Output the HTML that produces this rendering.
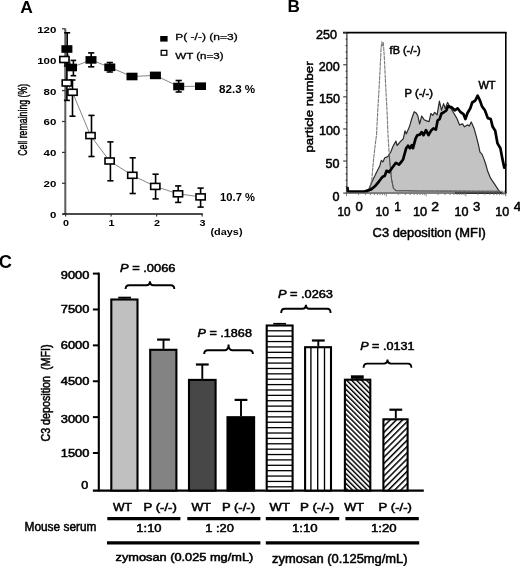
<!DOCTYPE html>
<html><head><meta charset="utf-8"><style>
html,body{margin:0;padding:0;background:#fff;}
svg{display:block;font-family:"Liberation Sans", sans-serif;filter:blur(0.35px);}
</style></head><body>
<svg width="520" height="566" viewBox="0 0 520 566" font-family='"Liberation Sans", sans-serif'>
<rect width="520" height="566" fill="#fff"/>
<text x="20.3" y="13" font-size="16.5" font-weight="bold" textLength="12.6" lengthAdjust="spacingAndGlyphs" >A</text>
<text x="27.4" y="155.8" font-size="12.4" stroke="#000" stroke-width="0.45" textLength="72" lengthAdjust="spacingAndGlyphs" transform="rotate(-90 27.4 155.8)" >Cell remaining (%)</text>
<line x1="65.3" y1="28.5" x2="65.3" y2="214.6" stroke="#5c5c5c" stroke-width="2.0" />
<line x1="62.5" y1="214.0" x2="202.8" y2="214.0" stroke="#111" stroke-width="1.5" />
<line x1="62" y1="214.2" x2="65.3" y2="214.2" stroke="#333" stroke-width="1.2" />
<line x1="62" y1="183.29999999999998" x2="65.3" y2="183.29999999999998" stroke="#333" stroke-width="1.2" />
<line x1="62" y1="152.39999999999998" x2="65.3" y2="152.39999999999998" stroke="#333" stroke-width="1.2" />
<line x1="62" y1="121.5" x2="65.3" y2="121.5" stroke="#333" stroke-width="1.2" />
<line x1="62" y1="90.6" x2="65.3" y2="90.6" stroke="#333" stroke-width="1.2" />
<line x1="62" y1="59.69999999999999" x2="65.3" y2="59.69999999999999" stroke="#333" stroke-width="1.2" />
<line x1="62" y1="28.80000000000001" x2="65.3" y2="28.80000000000001" stroke="#333" stroke-width="1.2" />
<line x1="65.6" y1="214" x2="65.6" y2="216.5" stroke="#333" stroke-width="1.2" />
<line x1="111.1" y1="214" x2="111.1" y2="216.5" stroke="#333" stroke-width="1.2" />
<line x1="156.6" y1="214" x2="156.6" y2="216.5" stroke="#333" stroke-width="1.2" />
<line x1="202.1" y1="214" x2="202.1" y2="216.5" stroke="#333" stroke-width="1.2" />
<text x="56.4" y="32.70000000000001" font-size="8.8" font-weight="bold" text-anchor="end" textLength="19.200000000000003" lengthAdjust="spacingAndGlyphs" >120</text>
<text x="56.4" y="63.59999999999999" font-size="8.8" font-weight="bold" text-anchor="end" textLength="19.200000000000003" lengthAdjust="spacingAndGlyphs" >100</text>
<text x="56.4" y="94.49999999999999" font-size="8.8" font-weight="bold" text-anchor="end" textLength="12.8" lengthAdjust="spacingAndGlyphs" >80</text>
<text x="56.4" y="125.39999999999999" font-size="8.8" font-weight="bold" text-anchor="end" textLength="12.8" lengthAdjust="spacingAndGlyphs" >60</text>
<text x="56.4" y="156.29999999999998" font-size="8.8" font-weight="bold" text-anchor="end" textLength="12.8" lengthAdjust="spacingAndGlyphs" >40</text>
<text x="56.4" y="187.2" font-size="8.8" font-weight="bold" text-anchor="end" textLength="12.8" lengthAdjust="spacingAndGlyphs" >20</text>
<text x="56.4" y="218.1" font-size="8.8" font-weight="bold" text-anchor="end" textLength="6.4" lengthAdjust="spacingAndGlyphs" >0</text>
<text x="66.1" y="226.4" font-size="8.6" font-weight="bold" text-anchor="middle" textLength="6.0" lengthAdjust="spacingAndGlyphs" >0</text>
<text x="111.6" y="226.4" font-size="8.6" font-weight="bold" text-anchor="middle" textLength="6.0" lengthAdjust="spacingAndGlyphs" >1</text>
<text x="157.1" y="226.4" font-size="8.6" font-weight="bold" text-anchor="middle" textLength="6.0" lengthAdjust="spacingAndGlyphs" >2</text>
<text x="202.6" y="226.4" font-size="8.6" font-weight="bold" text-anchor="middle" textLength="6.0" lengthAdjust="spacingAndGlyphs" >3</text>
<text x="210.5" y="234.7" font-size="9.5" font-weight="bold" textLength="32" lengthAdjust="spacingAndGlyphs" >(days)</text>
<text x="220.1" y="201.2" font-size="10.0" font-weight="bold" textLength="34.8" lengthAdjust="spacingAndGlyphs" >10.7 %</text>
<text x="219.0" y="93.1" font-size="10.0" font-weight="bold" textLength="36.2" lengthAdjust="spacingAndGlyphs" >82.3 %</text>
<rect x="160.2" y="36.0" width="7.4" height="5.6" fill="#000" stroke="none" stroke-width="0" />
<text x="175.2" y="40.0" font-size="9.8" stroke="#000" stroke-width="0.3" textLength="62.5" lengthAdjust="spacingAndGlyphs" >P( -/-) (n=3)</text>
<rect x="161.2" y="50.4" width="5.6" height="4.8" fill="#fff" stroke="#000" stroke-width="1.3" />
<text x="175.2" y="58.6" font-size="9.6" stroke="#000" stroke-width="0.3" textLength="48.5" lengthAdjust="spacingAndGlyphs" >WT (n=3)</text>
<polyline points="66.9,49.0 71.5,67.5 91.0,59.9 109.8,67.3 132.0,76.5 155.4,75.4 178.7,86.5 200.5,86.2" fill="none" stroke="#777" stroke-width="0.9" stroke-linejoin="round" />
<polyline points="64.4,59.5 66.8,83.0 72.5,92.3 90.5,135.6 109.6,161.0 132.3,175.3 155.3,186.4 178.0,193.8 200.6,196.9" fill="none" stroke="#777" stroke-width="0.9" stroke-linejoin="round" />
<line x1="66.9" y1="66" x2="66.9" y2="100.4" stroke="#000" stroke-width="1.6" />
<line x1="63.900000000000006" y1="66" x2="69.9" y2="66" stroke="#000" stroke-width="1.6" />
<line x1="63.900000000000006" y1="100.4" x2="69.9" y2="100.4" stroke="#000" stroke-width="1.6" />
<line x1="72.5" y1="80" x2="72.5" y2="116.2" stroke="#000" stroke-width="1.6" />
<line x1="69.5" y1="80" x2="75.5" y2="80" stroke="#000" stroke-width="1.6" />
<line x1="69.5" y1="116.2" x2="75.5" y2="116.2" stroke="#000" stroke-width="1.6" />
<line x1="91.5" y1="115.4" x2="91.5" y2="156.5" stroke="#000" stroke-width="1.6" />
<line x1="88.4" y1="115.4" x2="94.6" y2="115.4" stroke="#000" stroke-width="1.6" />
<line x1="88.4" y1="156.5" x2="94.6" y2="156.5" stroke="#000" stroke-width="1.6" />
<line x1="110.4" y1="141.9" x2="110.4" y2="180.8" stroke="#000" stroke-width="1.6" />
<line x1="107.30000000000001" y1="141.9" x2="113.5" y2="141.9" stroke="#000" stroke-width="1.6" />
<line x1="107.30000000000001" y1="180.8" x2="113.5" y2="180.8" stroke="#000" stroke-width="1.6" />
<line x1="132.7" y1="157.8" x2="132.7" y2="193.5" stroke="#000" stroke-width="1.6" />
<line x1="129.6" y1="157.8" x2="135.79999999999998" y2="157.8" stroke="#000" stroke-width="1.6" />
<line x1="129.6" y1="193.5" x2="135.79999999999998" y2="193.5" stroke="#000" stroke-width="1.6" />
<line x1="155.6" y1="174.2" x2="155.6" y2="198.9" stroke="#000" stroke-width="1.6" />
<line x1="152.5" y1="174.2" x2="158.7" y2="174.2" stroke="#000" stroke-width="1.6" />
<line x1="152.5" y1="198.9" x2="158.7" y2="198.9" stroke="#000" stroke-width="1.6" />
<line x1="178.2" y1="185.9" x2="178.2" y2="202.4" stroke="#000" stroke-width="1.6" />
<line x1="175.1" y1="185.9" x2="181.29999999999998" y2="185.9" stroke="#000" stroke-width="1.6" />
<line x1="175.1" y1="202.4" x2="181.29999999999998" y2="202.4" stroke="#000" stroke-width="1.6" />
<line x1="200.6" y1="188.1" x2="200.6" y2="207.1" stroke="#000" stroke-width="1.6" />
<line x1="197.5" y1="188.1" x2="203.7" y2="188.1" stroke="#000" stroke-width="1.6" />
<line x1="197.5" y1="207.1" x2="203.7" y2="207.1" stroke="#000" stroke-width="1.6" />
<line x1="67.2" y1="32.8" x2="67.2" y2="64" stroke="#000" stroke-width="1.6" />
<line x1="64.2" y1="32.8" x2="70.2" y2="32.8" stroke="#000" stroke-width="1.6" />
<line x1="64.2" y1="64" x2="70.2" y2="64" stroke="#000" stroke-width="1.6" />
<line x1="73.4" y1="60.4" x2="73.4" y2="75.7" stroke="#000" stroke-width="1.6" />
<line x1="70.65" y1="60.4" x2="76.15" y2="60.4" stroke="#000" stroke-width="1.6" />
<line x1="70.65" y1="75.7" x2="76.15" y2="75.7" stroke="#000" stroke-width="1.6" />
<line x1="91.2" y1="52.9" x2="91.2" y2="66.8" stroke="#000" stroke-width="1.6" />
<line x1="88.10000000000001" y1="52.9" x2="94.3" y2="52.9" stroke="#000" stroke-width="1.6" />
<line x1="88.10000000000001" y1="66.8" x2="94.3" y2="66.8" stroke="#000" stroke-width="1.6" />
<line x1="109.8" y1="62.5" x2="109.8" y2="72.0" stroke="#000" stroke-width="1.6" />
<line x1="106.7" y1="62.5" x2="112.89999999999999" y2="62.5" stroke="#000" stroke-width="1.6" />
<line x1="106.7" y1="72.0" x2="112.89999999999999" y2="72.0" stroke="#000" stroke-width="1.6" />
<line x1="178.7" y1="80.5" x2="178.7" y2="92.0" stroke="#000" stroke-width="1.6" />
<line x1="175.6" y1="80.5" x2="181.79999999999998" y2="80.5" stroke="#000" stroke-width="1.6" />
<line x1="175.6" y1="92.0" x2="181.79999999999998" y2="92.0" stroke="#000" stroke-width="1.6" />
<rect x="59.800000000000004" y="56.5" width="9.2" height="6.0" fill="#fff" stroke="#000" stroke-width="1.6" />
<rect x="62.199999999999996" y="80.0" width="9.2" height="6.0" fill="#fff" stroke="#000" stroke-width="1.6" />
<rect x="67.9" y="89.3" width="9.2" height="6.0" fill="#fff" stroke="#000" stroke-width="1.6" />
<rect x="85.9" y="132.6" width="9.2" height="6.0" fill="#fff" stroke="#000" stroke-width="1.6" />
<rect x="105.0" y="158.0" width="9.2" height="6.0" fill="#fff" stroke="#000" stroke-width="1.6" />
<rect x="127.70000000000002" y="172.3" width="9.2" height="6.0" fill="#fff" stroke="#000" stroke-width="1.6" />
<rect x="150.70000000000002" y="183.4" width="9.2" height="6.0" fill="#fff" stroke="#000" stroke-width="1.6" />
<rect x="173.4" y="190.8" width="9.2" height="6.0" fill="#fff" stroke="#000" stroke-width="1.6" />
<rect x="196.0" y="193.9" width="9.2" height="6.0" fill="#fff" stroke="#000" stroke-width="1.6" />
<rect x="61.400000000000006" y="45.2" width="11" height="7.6" fill="#000" stroke="none" stroke-width="0" />
<rect x="66.0" y="63.7" width="11" height="7.6" fill="#000" stroke="none" stroke-width="0" />
<rect x="85.5" y="56.1" width="11" height="7.6" fill="#000" stroke="none" stroke-width="0" />
<rect x="104.3" y="63.5" width="11" height="7.6" fill="#000" stroke="none" stroke-width="0" />
<rect x="126.5" y="72.7" width="11" height="7.6" fill="#000" stroke="none" stroke-width="0" />
<rect x="149.9" y="71.60000000000001" width="11" height="7.6" fill="#000" stroke="none" stroke-width="0" />
<rect x="173.2" y="82.7" width="11" height="7.6" fill="#000" stroke="none" stroke-width="0" />
<rect x="195.0" y="82.4" width="11" height="7.6" fill="#000" stroke="none" stroke-width="0" />
<text x="287.4" y="12.2" font-size="16.8" font-weight="bold" textLength="12.4" lengthAdjust="spacingAndGlyphs" >B</text>
<text x="313.0" y="152.6" font-size="11.8" stroke="#000" stroke-width="0.5" textLength="91.2" lengthAdjust="spacingAndGlyphs" transform="rotate(-90 313.0 152.6)" >particle number</text>
<text x="337.0" y="39.1" font-size="12.2" stroke="#000" stroke-width="0.5" text-anchor="end" textLength="21.0" lengthAdjust="spacingAndGlyphs" >250</text>
<text x="339.7" y="70.9" font-size="12.2" stroke="#000" stroke-width="0.5" text-anchor="end" textLength="21.0" lengthAdjust="spacingAndGlyphs" >200</text>
<text x="340.0" y="102.7" font-size="12.2" stroke="#000" stroke-width="0.5" text-anchor="end" textLength="21.0" lengthAdjust="spacingAndGlyphs" >150</text>
<text x="339.9" y="134.9" font-size="12.2" stroke="#000" stroke-width="0.5" text-anchor="end" textLength="21.0" lengthAdjust="spacingAndGlyphs" >100</text>
<text x="339.4" y="167.5" font-size="12.2" stroke="#000" stroke-width="0.5" text-anchor="end" textLength="14.0" lengthAdjust="spacingAndGlyphs" >50</text>
<text x="339.4" y="200.9" font-size="12.2" stroke="#000" stroke-width="0.5" text-anchor="end" textLength="7.0" lengthAdjust="spacingAndGlyphs" >0</text>
<text x="337.59999999999997" y="216.0" font-size="12.4" stroke="#000" stroke-width="0.5" textLength="13.00000000000001" lengthAdjust="spacingAndGlyphs" >10</text>
<text x="355.59999999999997" y="210.9" font-size="12.0" stroke="#000" stroke-width="0.5" textLength="7.300000000000023" lengthAdjust="spacingAndGlyphs" >0</text>
<text x="375.59999999999997" y="216.0" font-size="12.4" stroke="#000" stroke-width="0.5" textLength="13.50000000000001" lengthAdjust="spacingAndGlyphs" >10</text>
<text x="394.3" y="210.9" font-size="12.0" stroke="#000" stroke-width="0.5" >1</text>
<text x="412.9" y="216.0" font-size="12.4" stroke="#000" stroke-width="0.5" textLength="14.2" lengthAdjust="spacingAndGlyphs" >10</text>
<text x="431.29999999999995" y="210.9" font-size="12.0" stroke="#000" stroke-width="0.5" textLength="7.800000000000023" lengthAdjust="spacingAndGlyphs" >2</text>
<text x="454.4" y="216.0" font-size="12.4" stroke="#000" stroke-width="0.5" textLength="14.00000000000001" lengthAdjust="spacingAndGlyphs" >10</text>
<text x="472.9" y="210.9" font-size="12.0" stroke="#000" stroke-width="0.5" textLength="7.300000000000023" lengthAdjust="spacingAndGlyphs" >3</text>
<text x="495.2" y="216.0" font-size="12.4" stroke="#000" stroke-width="0.5" textLength="13.899999999999988" lengthAdjust="spacingAndGlyphs" >10</text>
<text x="513.6999999999999" y="210.9" font-size="12.0" stroke="#000" stroke-width="0.5" textLength="7.400000000000046" lengthAdjust="spacingAndGlyphs" >4</text>
<text x="372.6" y="236.5" font-size="12.6" stroke="#000" stroke-width="0.5" textLength="113.2" lengthAdjust="spacingAndGlyphs" >C3 deposition (MFI)</text>
<clipPath id="pclip"><path d="M346.5,193.1 L366.5,193.1 L369.3,188.2 L372.4,180.7 L374.9,175.8 L377.3,170.8 L379.8,165.9 L381.3,160.3 L382.9,161.9 L384.8,157.8 L387.8,156.6 L390.9,151.7 L392.8,146.7 L395.9,141.1 L397.1,145.5 L400.8,141.1 L403.3,138.7 L405.0,130.8 L406.2,133.9 L409.3,127.1 L411.8,118.5 L414.2,111.7 L416.1,112.9 L417.9,116.0 L419.6,124.0 L421.7,116.0 L424.1,119.7 L426.6,120.9 L429.1,121.6 L430.9,113.5 L432.8,115.4 L434.7,112.3 L437.1,114.8 L439.4,101.1 L441.5,110.4 L443.6,103.6 L445.2,108.6 L447.6,102.4 L449.5,106.1 L451.8,109.7 L453.8,113.2 L456.7,118.1 L459.6,124.9 L462.5,123.9 L464.5,126.8 L467.4,124.9 L469.3,125.9 L471.3,122.0 L474.2,128.8 L476.1,135.6 L478.1,143.4 L480.0,152.1 L482.0,154.1 L483.9,158.9 L485.9,164.8 L487.8,171.6 L490.7,178.4 L494.6,184.2 L498.5,190.1 L500.4,192.0 L502.0,193.1 Z"/></clipPath>
<path d="M346.5,193.1 L366.5,193.1 L369.3,188.2 L372.4,180.7 L374.9,175.8 L377.3,170.8 L379.8,165.9 L381.3,160.3 L382.9,161.9 L384.8,157.8 L387.8,156.6 L390.9,151.7 L392.8,146.7 L395.9,141.1 L397.1,145.5 L400.8,141.1 L403.3,138.7 L405.0,130.8 L406.2,133.9 L409.3,127.1 L411.8,118.5 L414.2,111.7 L416.1,112.9 L417.9,116.0 L419.6,124.0 L421.7,116.0 L424.1,119.7 L426.6,120.9 L429.1,121.6 L430.9,113.5 L432.8,115.4 L434.7,112.3 L437.1,114.8 L439.4,101.1 L441.5,110.4 L443.6,103.6 L445.2,108.6 L447.6,102.4 L449.5,106.1 L451.8,109.7 L453.8,113.2 L456.7,118.1 L459.6,124.9 L462.5,123.9 L464.5,126.8 L467.4,124.9 L469.3,125.9 L471.3,122.0 L474.2,128.8 L476.1,135.6 L478.1,143.4 L480.0,152.1 L482.0,154.1 L483.9,158.9 L485.9,164.8 L487.8,171.6 L490.7,178.4 L494.6,184.2 L498.5,190.1 L500.4,192.0 L502.0,193.1 Z" fill="#c3c3c3" stroke="#2a2a2a" stroke-width="1.2" stroke-linejoin="round"/>
<polyline points="346.5,191.6 366.0,191.4 369.9,188.2 371.8,179.5 373.5,160.0 375.2,145.0 376.5,135.0 377.8,110.0 379.1,88.0 380.3,65.0 381.1,48.0 381.8,41.7 382.6,46.0 383.3,42.5 384.2,55.0 385.8,88.0 387.2,115.0 388.0,135.0 389.7,161.0 391.6,179.5 393.4,188.2 395.9,190.6 420.0,191.0 505.0,191.3" fill="none" stroke="#7a7a7a" stroke-width="1.1" stroke-linejoin="round" stroke-dasharray="4,0.6"/>
<polyline points="346.5,191.6 366.0,191.4 369.9,188.2 371.8,179.5 373.5,160.0 375.2,145.0 376.5,135.0 377.8,110.0 379.1,88.0 380.3,65.0 381.1,48.0 381.8,41.7 382.6,46.0 383.3,42.5 384.2,55.0 385.8,88.0 387.2,115.0 388.0,135.0 389.7,161.0 391.6,179.5 393.4,188.2 395.9,190.6 420.0,191.0 505.0,191.3" fill="none" stroke="#555" stroke-width="1.1" stroke-linejoin="round" clip-path="url(#pclip)"/>
<polyline points="347.4,187.0 347.8,190.8 349.0,191.6 364.2,191.6 367.4,190.6 371.1,189.4 374.9,186.3 378.6,182.0 382.3,177.0 384.8,175.8 386.6,170.8 389.1,172.1 392.2,167.7 395.9,162.8 399.0,164.7 402.1,160.9 403.1,159.3 406.2,148.2 408.0,145.7 409.9,148.2 411.8,145.1 413.0,148.2 415.5,138.9 417.3,135.2 419.8,134.6 421.7,132.1 423.5,135.2 426.0,130.2 428.5,135.2 430.9,130.8 433.4,128.4 435.9,129.6 437.7,120.3 439.6,119.1 441.5,113.5 443.9,112.3 446.4,110.4 447.9,106.4 451.8,107.4 454.7,110.3 457.6,108.3 460.6,112.2 463.5,114.2 465.4,119.0 467.4,113.2 470.3,108.3 472.2,102.5 475.2,100.6 477.7,95.7 480.0,100.6 482.0,106.4 484.9,110.3 487.8,118.1 490.7,119.0 492.7,126.8 495.2,130.7 497.5,143.4 500.4,148.2 502.4,158.9 504.3,167.7 505.5,164.0" fill="none" stroke="#000" stroke-width="2.7" stroke-linejoin="round" />
<line x1="346.9" y1="32.7" x2="346.9" y2="193.3" stroke="#222" stroke-width="1.1" />
<line x1="505.8" y1="32.0" x2="505.8" y2="193.3" stroke="#000" stroke-width="1.6" />
<line x1="343.0" y1="32.7" x2="506.5" y2="32.7" stroke="#000" stroke-width="1.7" />
<line x1="346.9" y1="193.1" x2="455" y2="193.1" stroke="#8a8a8a" stroke-width="1.1" />
<line x1="455" y1="193.1" x2="506.5" y2="193.1" stroke="#222" stroke-width="1.3" />
<line x1="343.2" y1="193.1" x2="346.9" y2="193.1" stroke="#333" stroke-width="1.1" />
<line x1="343.2" y1="161.01999999999998" x2="346.9" y2="161.01999999999998" stroke="#333" stroke-width="1.1" />
<line x1="343.2" y1="128.94" x2="346.9" y2="128.94" stroke="#333" stroke-width="1.1" />
<line x1="343.2" y1="96.86000000000001" x2="346.9" y2="96.86000000000001" stroke="#333" stroke-width="1.1" />
<line x1="343.2" y1="64.78" x2="346.9" y2="64.78" stroke="#333" stroke-width="1.1" />
<line x1="343.2" y1="32.70000000000002" x2="346.9" y2="32.70000000000002" stroke="#333" stroke-width="1.1" />
<line x1="345.6" y1="186.684" x2="347.2" y2="186.684" stroke="#333" stroke-width="1.1" />
<line x1="345.6" y1="180.268" x2="347.2" y2="180.268" stroke="#333" stroke-width="1.1" />
<line x1="345.6" y1="173.852" x2="347.2" y2="173.852" stroke="#333" stroke-width="1.1" />
<line x1="345.6" y1="167.436" x2="347.2" y2="167.436" stroke="#333" stroke-width="1.1" />
<line x1="345.6" y1="154.60399999999998" x2="347.2" y2="154.60399999999998" stroke="#333" stroke-width="1.1" />
<line x1="345.6" y1="148.188" x2="347.2" y2="148.188" stroke="#333" stroke-width="1.1" />
<line x1="345.6" y1="141.772" x2="347.2" y2="141.772" stroke="#333" stroke-width="1.1" />
<line x1="345.6" y1="135.356" x2="347.2" y2="135.356" stroke="#333" stroke-width="1.1" />
<line x1="345.6" y1="122.52400000000002" x2="347.2" y2="122.52400000000002" stroke="#333" stroke-width="1.1" />
<line x1="345.6" y1="116.108" x2="347.2" y2="116.108" stroke="#333" stroke-width="1.1" />
<line x1="345.6" y1="109.69200000000001" x2="347.2" y2="109.69200000000001" stroke="#333" stroke-width="1.1" />
<line x1="345.6" y1="103.27600000000001" x2="347.2" y2="103.27600000000001" stroke="#333" stroke-width="1.1" />
<line x1="345.6" y1="90.444" x2="347.2" y2="90.444" stroke="#333" stroke-width="1.1" />
<line x1="345.6" y1="84.028" x2="347.2" y2="84.028" stroke="#333" stroke-width="1.1" />
<line x1="345.6" y1="77.61200000000001" x2="347.2" y2="77.61200000000001" stroke="#333" stroke-width="1.1" />
<line x1="345.6" y1="71.19600000000001" x2="347.2" y2="71.19600000000001" stroke="#333" stroke-width="1.1" />
<line x1="345.6" y1="58.36400000000003" x2="347.2" y2="58.36400000000003" stroke="#333" stroke-width="1.1" />
<line x1="345.6" y1="51.948000000000036" x2="347.2" y2="51.948000000000036" stroke="#333" stroke-width="1.1" />
<line x1="345.6" y1="45.53200000000001" x2="347.2" y2="45.53200000000001" stroke="#333" stroke-width="1.1" />
<line x1="345.6" y1="39.116000000000014" x2="347.2" y2="39.116000000000014" stroke="#333" stroke-width="1.1" />
<line x1="346.5" y1="193.1" x2="346.5" y2="196.29999999999998" stroke="#777" stroke-width="0.9" />
<line x1="358.48099382742646" y1="193.1" x2="358.48099382742646" y2="195.1" stroke="#777" stroke-width="0.9" />
<line x1="365.48942593784255" y1="193.1" x2="365.48942593784255" y2="195.1" stroke="#777" stroke-width="0.9" />
<line x1="370.4619876548529" y1="193.1" x2="370.4619876548529" y2="195.1" stroke="#777" stroke-width="0.9" />
<line x1="374.31900617257355" y1="193.1" x2="374.31900617257355" y2="195.1" stroke="#777" stroke-width="0.9" />
<line x1="377.470419765269" y1="193.1" x2="377.470419765269" y2="195.1" stroke="#777" stroke-width="0.9" />
<line x1="380.1349019925674" y1="193.1" x2="380.1349019925674" y2="195.1" stroke="#777" stroke-width="0.9" />
<line x1="382.4429814822794" y1="193.1" x2="382.4429814822794" y2="195.1" stroke="#777" stroke-width="0.9" />
<line x1="384.4788518756851" y1="193.1" x2="384.4788518756851" y2="195.1" stroke="#777" stroke-width="0.9" />
<line x1="386.3" y1="193.1" x2="386.3" y2="196.29999999999998" stroke="#777" stroke-width="0.9" />
<line x1="398.28099382742647" y1="193.1" x2="398.28099382742647" y2="195.1" stroke="#777" stroke-width="0.9" />
<line x1="405.28942593784257" y1="193.1" x2="405.28942593784257" y2="195.1" stroke="#777" stroke-width="0.9" />
<line x1="410.26198765485293" y1="193.1" x2="410.26198765485293" y2="195.1" stroke="#777" stroke-width="0.9" />
<line x1="414.11900617257356" y1="193.1" x2="414.11900617257356" y2="195.1" stroke="#777" stroke-width="0.9" />
<line x1="417.270419765269" y1="193.1" x2="417.270419765269" y2="195.1" stroke="#777" stroke-width="0.9" />
<line x1="419.93490199256746" y1="193.1" x2="419.93490199256746" y2="195.1" stroke="#777" stroke-width="0.9" />
<line x1="422.24298148227933" y1="193.1" x2="422.24298148227933" y2="195.1" stroke="#777" stroke-width="0.9" />
<line x1="424.2788518756851" y1="193.1" x2="424.2788518756851" y2="195.1" stroke="#777" stroke-width="0.9" />
<line x1="426.1" y1="193.1" x2="426.1" y2="196.29999999999998" stroke="#777" stroke-width="0.9" />
<line x1="438.0809938274265" y1="193.1" x2="438.0809938274265" y2="195.1" stroke="#777" stroke-width="0.9" />
<line x1="445.0894259378426" y1="193.1" x2="445.0894259378426" y2="195.1" stroke="#777" stroke-width="0.9" />
<line x1="450.06198765485294" y1="193.1" x2="450.06198765485294" y2="195.1" stroke="#777" stroke-width="0.9" />
<line x1="453.9190061725736" y1="193.1" x2="453.9190061725736" y2="195.1" stroke="#777" stroke-width="0.9" />
<line x1="457.07041976526904" y1="193.1" x2="457.07041976526904" y2="195.1" stroke="#777" stroke-width="0.9" />
<line x1="459.7349019925674" y1="193.1" x2="459.7349019925674" y2="195.1" stroke="#777" stroke-width="0.9" />
<line x1="462.0429814822794" y1="193.1" x2="462.0429814822794" y2="195.1" stroke="#777" stroke-width="0.9" />
<line x1="464.07885187568513" y1="193.1" x2="464.07885187568513" y2="195.1" stroke="#777" stroke-width="0.9" />
<line x1="465.9" y1="193.1" x2="465.9" y2="196.29999999999998" stroke="#777" stroke-width="0.9" />
<line x1="477.88099382742644" y1="193.1" x2="477.88099382742644" y2="195.1" stroke="#777" stroke-width="0.9" />
<line x1="484.88942593784253" y1="193.1" x2="484.88942593784253" y2="195.1" stroke="#777" stroke-width="0.9" />
<line x1="489.8619876548529" y1="193.1" x2="489.8619876548529" y2="195.1" stroke="#777" stroke-width="0.9" />
<line x1="493.71900617257353" y1="193.1" x2="493.71900617257353" y2="195.1" stroke="#777" stroke-width="0.9" />
<line x1="496.870419765269" y1="193.1" x2="496.870419765269" y2="195.1" stroke="#777" stroke-width="0.9" />
<line x1="499.53490199256737" y1="193.1" x2="499.53490199256737" y2="195.1" stroke="#777" stroke-width="0.9" />
<line x1="501.84298148227936" y1="193.1" x2="501.84298148227936" y2="195.1" stroke="#777" stroke-width="0.9" />
<line x1="503.8788518756851" y1="193.1" x2="503.8788518756851" y2="195.1" stroke="#777" stroke-width="0.9" />
<line x1="505.7" y1="193.1" x2="505.7" y2="196.3" stroke="#555" stroke-width="0.9" />
<text x="389.6" y="54.2" font-size="10.8" stroke="#000" stroke-width="0.5" textLength="31" lengthAdjust="spacingAndGlyphs" >fB (-/-)</text>
<text x="404.6" y="97.3" font-size="10.8" stroke="#000" stroke-width="0.5" textLength="28.3" lengthAdjust="spacingAndGlyphs" >P (-/-)</text>
<text x="478.4" y="88.8" font-size="10.8" stroke="#000" stroke-width="0.5" textLength="17.2" lengthAdjust="spacingAndGlyphs" >WT</text>
<text x="-1.2" y="268" font-size="18.5" font-weight="bold" textLength="13.2" lengthAdjust="spacingAndGlyphs" >C</text>
<text x="50.5" y="441.6" font-size="12.0" stroke="#000" stroke-width="0.5" textLength="97.2" lengthAdjust="spacingAndGlyphs" transform="rotate(-90 50.5 441.6)" >C3 deposition&#160; (MFI)</text>
<line x1="98.8" y1="272.6" x2="98.8" y2="491.5" stroke="#000" stroke-width="2.1" />
<line x1="92.9" y1="490.6" x2="423.8" y2="490.6" stroke="#000" stroke-width="2.2" />
<line x1="92.9" y1="273.6" x2="98.8" y2="273.6" stroke="#000" stroke-width="2.0" />
<text x="89.4" y="278.5" font-size="10.4" stroke="#000" stroke-width="0.5" text-anchor="end" textLength="28.6" lengthAdjust="spacingAndGlyphs" >9000</text>
<line x1="92.9" y1="309.48333333333335" x2="98.8" y2="309.48333333333335" stroke="#000" stroke-width="2.0" />
<text x="89.4" y="313.3" font-size="10.4" stroke="#000" stroke-width="0.5" text-anchor="end" textLength="28.6" lengthAdjust="spacingAndGlyphs" >7500</text>
<line x1="92.9" y1="345.3666666666667" x2="98.8" y2="345.3666666666667" stroke="#000" stroke-width="2.0" />
<text x="89.4" y="349.3" font-size="10.4" stroke="#000" stroke-width="0.5" text-anchor="end" textLength="28.6" lengthAdjust="spacingAndGlyphs" >6000</text>
<line x1="92.9" y1="381.25" x2="98.8" y2="381.25" stroke="#000" stroke-width="2.0" />
<text x="89.4" y="385.3" font-size="10.4" stroke="#000" stroke-width="0.5" text-anchor="end" textLength="28.6" lengthAdjust="spacingAndGlyphs" >4500</text>
<line x1="92.9" y1="417.1333333333333" x2="98.8" y2="417.1333333333333" stroke="#000" stroke-width="2.0" />
<text x="89.4" y="423.2" font-size="10.4" stroke="#000" stroke-width="0.5" text-anchor="end" textLength="28.6" lengthAdjust="spacingAndGlyphs" >3000</text>
<line x1="92.9" y1="453.01666666666665" x2="98.8" y2="453.01666666666665" stroke="#000" stroke-width="2.0" />
<text x="89.4" y="457.0" font-size="10.4" stroke="#000" stroke-width="0.5" text-anchor="end" textLength="28.6" lengthAdjust="spacingAndGlyphs" >1500</text>
<text x="88.2" y="489.2" font-size="10.0" stroke="#000" stroke-width="0.5" text-anchor="end" textLength="7.0" lengthAdjust="spacingAndGlyphs" >0</text>
<defs>
<pattern id="ph" patternUnits="userSpaceOnUse" width="10" height="5.4" y="0.8"><rect width="10" height="5.4" fill="#fff"/><rect y="0" width="10" height="1.3" fill="#000"/></pattern>
<pattern id="pv" patternUnits="userSpaceOnUse" width="6.9" height="10" x="304.6"><rect width="6.6" height="10" fill="#fff"/><rect x="5.6" width="1.3" height="10" fill="#000"/></pattern>
<pattern id="pd1" patternUnits="userSpaceOnUse" width="3.5" height="3.5" patternTransform="rotate(-45)"><rect width="3.5" height="3.5" fill="#fff"/><rect width="1.45" height="3.5" fill="#000"/></pattern>
<pattern id="pd2" patternUnits="userSpaceOnUse" width="4.4" height="4.4" patternTransform="rotate(45)"><rect width="4.4" height="4.4" fill="#fff"/><rect width="1.5" height="4.4" fill="#000"/></pattern>
</defs>
<line x1="124.6" y1="297.6" x2="124.6" y2="298.5" stroke="#000" stroke-width="1.9" />
<rect x="118.19999999999999" y="296.70000000000005" width="12.8" height="1.8999999999999773" fill="#000" stroke="none" stroke-width="0" />
<rect x="111.3" y="299.5" width="26.200000000000003" height="191.10000000000002" fill="#c0c0c0" stroke="#000" stroke-width="2.1" />
<line x1="163.5" y1="339.6" x2="163.5" y2="348.8" stroke="#000" stroke-width="1.9" />
<line x1="157.1" y1="339.6" x2="169.9" y2="339.6" stroke="#000" stroke-width="2.2" />
<rect x="150.2" y="349.8" width="26.200000000000017" height="140.8" fill="#838383" stroke="#000" stroke-width="2.1" />
<line x1="202.3" y1="364.5" x2="202.3" y2="378.9" stroke="#000" stroke-width="1.9" />
<line x1="195.9" y1="364.5" x2="208.70000000000002" y2="364.5" stroke="#000" stroke-width="2.2" />
<rect x="189.0" y="379.9" width="26.599999999999994" height="110.70000000000005" fill="#474747" stroke="#000" stroke-width="2.1" />
<line x1="241.0" y1="399.9" x2="241.0" y2="416.2" stroke="#000" stroke-width="1.9" />
<line x1="234.6" y1="399.9" x2="247.4" y2="399.9" stroke="#000" stroke-width="2.2" />
<rect x="227.5" y="417.2" width="26.599999999999994" height="73.40000000000003" fill="#000" stroke="#000" stroke-width="2.1" />
<rect x="265.7" y="324.5" width="27.900000000000034" height="166.10000000000002" fill="#fff" stroke="none" stroke-width="0" />
<line x1="266.7" y1="330.8" x2="292.6" y2="330.8" stroke="#000" stroke-width="1.3" />
<line x1="266.7" y1="336.18" x2="292.6" y2="336.18" stroke="#000" stroke-width="1.3" />
<line x1="266.7" y1="341.56" x2="292.6" y2="341.56" stroke="#000" stroke-width="1.3" />
<line x1="266.7" y1="346.94" x2="292.6" y2="346.94" stroke="#000" stroke-width="1.3" />
<line x1="266.7" y1="352.32" x2="292.6" y2="352.32" stroke="#000" stroke-width="1.3" />
<line x1="266.7" y1="357.7" x2="292.6" y2="357.7" stroke="#000" stroke-width="1.3" />
<line x1="266.7" y1="363.08" x2="292.6" y2="363.08" stroke="#000" stroke-width="1.3" />
<line x1="266.7" y1="368.46" x2="292.6" y2="368.46" stroke="#000" stroke-width="1.3" />
<line x1="266.7" y1="373.84" x2="292.6" y2="373.84" stroke="#000" stroke-width="1.3" />
<line x1="266.7" y1="379.21999999999997" x2="292.6" y2="379.21999999999997" stroke="#000" stroke-width="1.3" />
<line x1="266.7" y1="384.59999999999997" x2="292.6" y2="384.59999999999997" stroke="#000" stroke-width="1.3" />
<line x1="266.7" y1="389.97999999999996" x2="292.6" y2="389.97999999999996" stroke="#000" stroke-width="1.3" />
<line x1="266.7" y1="395.35999999999996" x2="292.6" y2="395.35999999999996" stroke="#000" stroke-width="1.3" />
<line x1="266.7" y1="400.73999999999995" x2="292.6" y2="400.73999999999995" stroke="#000" stroke-width="1.3" />
<line x1="266.7" y1="406.11999999999995" x2="292.6" y2="406.11999999999995" stroke="#000" stroke-width="1.3" />
<line x1="266.7" y1="411.49999999999994" x2="292.6" y2="411.49999999999994" stroke="#000" stroke-width="1.3" />
<line x1="266.7" y1="416.87999999999994" x2="292.6" y2="416.87999999999994" stroke="#000" stroke-width="1.3" />
<line x1="266.7" y1="422.25999999999993" x2="292.6" y2="422.25999999999993" stroke="#000" stroke-width="1.3" />
<line x1="266.7" y1="427.63999999999993" x2="292.6" y2="427.63999999999993" stroke="#000" stroke-width="1.3" />
<line x1="266.7" y1="433.0199999999999" x2="292.6" y2="433.0199999999999" stroke="#000" stroke-width="1.3" />
<line x1="266.7" y1="438.3999999999999" x2="292.6" y2="438.3999999999999" stroke="#000" stroke-width="1.3" />
<line x1="266.7" y1="443.7799999999999" x2="292.6" y2="443.7799999999999" stroke="#000" stroke-width="1.3" />
<line x1="266.7" y1="449.1599999999999" x2="292.6" y2="449.1599999999999" stroke="#000" stroke-width="1.3" />
<line x1="266.7" y1="454.5399999999999" x2="292.6" y2="454.5399999999999" stroke="#000" stroke-width="1.3" />
<line x1="266.7" y1="459.9199999999999" x2="292.6" y2="459.9199999999999" stroke="#000" stroke-width="1.3" />
<line x1="266.7" y1="465.2999999999999" x2="292.6" y2="465.2999999999999" stroke="#000" stroke-width="1.3" />
<line x1="266.7" y1="470.6799999999999" x2="292.6" y2="470.6799999999999" stroke="#000" stroke-width="1.3" />
<line x1="266.7" y1="476.0599999999999" x2="292.6" y2="476.0599999999999" stroke="#000" stroke-width="1.3" />
<line x1="266.7" y1="481.4399999999999" x2="292.6" y2="481.4399999999999" stroke="#000" stroke-width="1.3" />
<line x1="266.7" y1="486.8199999999999" x2="292.6" y2="486.8199999999999" stroke="#000" stroke-width="1.3" />
<line x1="279.6" y1="323.8" x2="279.6" y2="324.5" stroke="#000" stroke-width="1.9" />
<rect x="273.20000000000005" y="322.90000000000003" width="12.8" height="1.6999999999999886" fill="#000" stroke="none" stroke-width="0" />
<rect x="266.7" y="325.5" width="25.900000000000034" height="165.10000000000002" fill="none" stroke="#000" stroke-width="2.1" />
<rect x="304.1" y="346.2" width="27.899999999999977" height="144.40000000000003" fill="#fff" stroke="none" stroke-width="0" />
<line x1="310.9" y1="347.2" x2="310.9" y2="490" stroke="#000" stroke-width="1.35" />
<line x1="317.7" y1="347.2" x2="317.7" y2="490" stroke="#000" stroke-width="1.35" />
<line x1="324.5" y1="347.2" x2="324.5" y2="490" stroke="#000" stroke-width="1.35" />
<line x1="318.3" y1="340.5" x2="318.3" y2="346.2" stroke="#000" stroke-width="1.9" />
<line x1="311.90000000000003" y1="340.5" x2="324.7" y2="340.5" stroke="#000" stroke-width="2.2" />
<rect x="305.1" y="347.2" width="25.899999999999977" height="143.40000000000003" fill="none" stroke="#000" stroke-width="2.1" />
<line x1="357.3" y1="376.2" x2="357.3" y2="378.7" stroke="#000" stroke-width="1.9" />
<rect x="350.90000000000003" y="375.3" width="12.8" height="3.5" fill="#000" stroke="none" stroke-width="0" />
<rect x="344.9" y="379.7" width="25.400000000000034" height="110.90000000000003" fill="url(#pd1)" stroke="#000" stroke-width="2.1" />
<line x1="395.8" y1="409.7" x2="395.8" y2="418.3" stroke="#000" stroke-width="1.9" />
<line x1="389.40000000000003" y1="409.7" x2="402.2" y2="409.7" stroke="#000" stroke-width="2.2" />
<rect x="383.4" y="419.3" width="24.200000000000045" height="71.30000000000001" fill="url(#pd2)" stroke="#000" stroke-width="2.1" />
<path d="M125.6,289.0 Q125.6,285.2 129.1,285.2 L146.45,285.2 Q149.95,285.2 149.95,281.2 Q149.95,285.2 153.45,285.2 L170.8,285.2 Q174.3,285.2 174.3,289.0" fill="none" stroke="#000" stroke-width="1.9"/>
<path d="M204.2,354.0 Q204.2,350.2 207.7,350.2 L225.05,350.2 Q228.55,350.2 228.55,344.6 Q228.55,350.2 232.05,350.2 L249.4,350.2 Q252.9,350.2 252.9,354.0" fill="none" stroke="#000" stroke-width="1.9"/>
<path d="M281.2,313.0 Q281.2,308.8 284.7,308.8 L302.4,308.8 Q305.9,308.8 305.9,304.8 Q305.9,308.8 309.4,308.8 L327.1,308.8 Q330.6,308.8 330.6,313.0" fill="none" stroke="#000" stroke-width="1.9"/>
<path d="M363.6,367.8 Q363.6,363.6 367.1,363.6 L384.0,363.6 Q387.5,363.6 387.5,359.6 Q387.5,363.6 391.0,363.6 L407.9,363.6 Q411.4,363.6 411.4,367.8" fill="none" stroke="#000" stroke-width="1.9"/>
<text x="120.0" y="272.3" font-size="10.8" stroke="#000" stroke-width="0.5" textLength="55.50000000000001" lengthAdjust="spacingAndGlyphs" ><tspan font-style="italic">P</tspan> = .0066</text>
<text x="197.6" y="337.3" font-size="10.8" stroke="#000" stroke-width="0.5" textLength="54.30000000000002" lengthAdjust="spacingAndGlyphs" ><tspan font-style="italic">P</tspan> = .1868</text>
<text x="277.9" y="297.7" font-size="10.8" stroke="#000" stroke-width="0.5" textLength="55.1" lengthAdjust="spacingAndGlyphs" ><tspan font-style="italic">P</tspan> = .0263</text>
<text x="360.2" y="350.3" font-size="10.8" stroke="#000" stroke-width="0.5" textLength="54.200000000000024" lengthAdjust="spacingAndGlyphs" ><tspan font-style="italic">P</tspan> = .0131</text>
<text x="113.0" y="511.0" font-size="10.8" stroke="#000" stroke-width="0.5" textLength="19.000000000000007" lengthAdjust="spacingAndGlyphs" >WT</text>
<text x="143.39999999999998" y="511.0" font-size="10.8" stroke="#000" stroke-width="0.5" textLength="33.500000000000014" lengthAdjust="spacingAndGlyphs" >P (-/-)</text>
<line x1="107.3" y1="518.7" x2="180.4" y2="518.7" stroke="#000" stroke-width="3.2" />
<text x="136.29999999999998" y="532.1" font-size="11.2" stroke="#000" stroke-width="0.5" textLength="25.299999999999994" lengthAdjust="spacingAndGlyphs" >1:10</text>
<text x="191.4" y="511.0" font-size="10.8" stroke="#000" stroke-width="0.5" textLength="19.500000000000007" lengthAdjust="spacingAndGlyphs" >WT</text>
<text x="221.89999999999998" y="511.0" font-size="10.8" stroke="#000" stroke-width="0.5" textLength="33.10000000000001" lengthAdjust="spacingAndGlyphs" >P (-/-)</text>
<line x1="187.3" y1="518.7" x2="260.4" y2="518.7" stroke="#000" stroke-width="3.2" />
<text x="205.2" y="532.1" font-size="11.2" stroke="#000" stroke-width="0.5" textLength="28.7" lengthAdjust="spacingAndGlyphs" >1 :20</text>
<text x="269.5" y="511.0" font-size="10.8" stroke="#000" stroke-width="0.5" textLength="20.400000000000013" lengthAdjust="spacingAndGlyphs" >WT</text>
<text x="300.0" y="511.0" font-size="10.8" stroke="#000" stroke-width="0.5" textLength="33.89999999999999" lengthAdjust="spacingAndGlyphs" >P (-/-)</text>
<line x1="265.8" y1="518.7" x2="339.2" y2="518.7" stroke="#000" stroke-width="3.2" />
<text x="291.9" y="532.1" font-size="11.2" stroke="#000" stroke-width="0.5" textLength="25.800000000000022" lengthAdjust="spacingAndGlyphs" >1:10</text>
<text x="344.3" y="511.0" font-size="10.8" stroke="#000" stroke-width="0.5" textLength="19.79999999999999" lengthAdjust="spacingAndGlyphs" >WT</text>
<text x="378.59999999999997" y="511.0" font-size="10.8" stroke="#000" stroke-width="0.5" textLength="33.300000000000026" lengthAdjust="spacingAndGlyphs" >P (-/-)</text>
<line x1="345.4" y1="518.7" x2="418.8" y2="518.7" stroke="#000" stroke-width="3.2" />
<text x="370.9" y="532.1" font-size="11.2" stroke="#000" stroke-width="0.5" textLength="25.7" lengthAdjust="spacingAndGlyphs" >1:20</text>
<line x1="107.0" y1="542.8" x2="260.4" y2="542.8" stroke="#000" stroke-width="3.3" />
<line x1="265.8" y1="542.8" x2="419.2" y2="542.8" stroke="#000" stroke-width="3.3" />
<text x="115.5" y="560.8" font-size="10.6" stroke="#000" stroke-width="0.5" textLength="137.8" lengthAdjust="spacingAndGlyphs" >zymosan (0.025 mg/mL)</text>
<text x="272.0" y="563.4" font-size="12.0" stroke="#000" stroke-width="0.5" textLength="135.6" lengthAdjust="spacingAndGlyphs" >zymosan (0.125mg/mL)</text>
<text x="24.5" y="531.3" font-size="12.0" stroke="#000" stroke-width="0.5" textLength="72" lengthAdjust="spacingAndGlyphs" >Mouse serum</text>
</svg>
</body></html>
